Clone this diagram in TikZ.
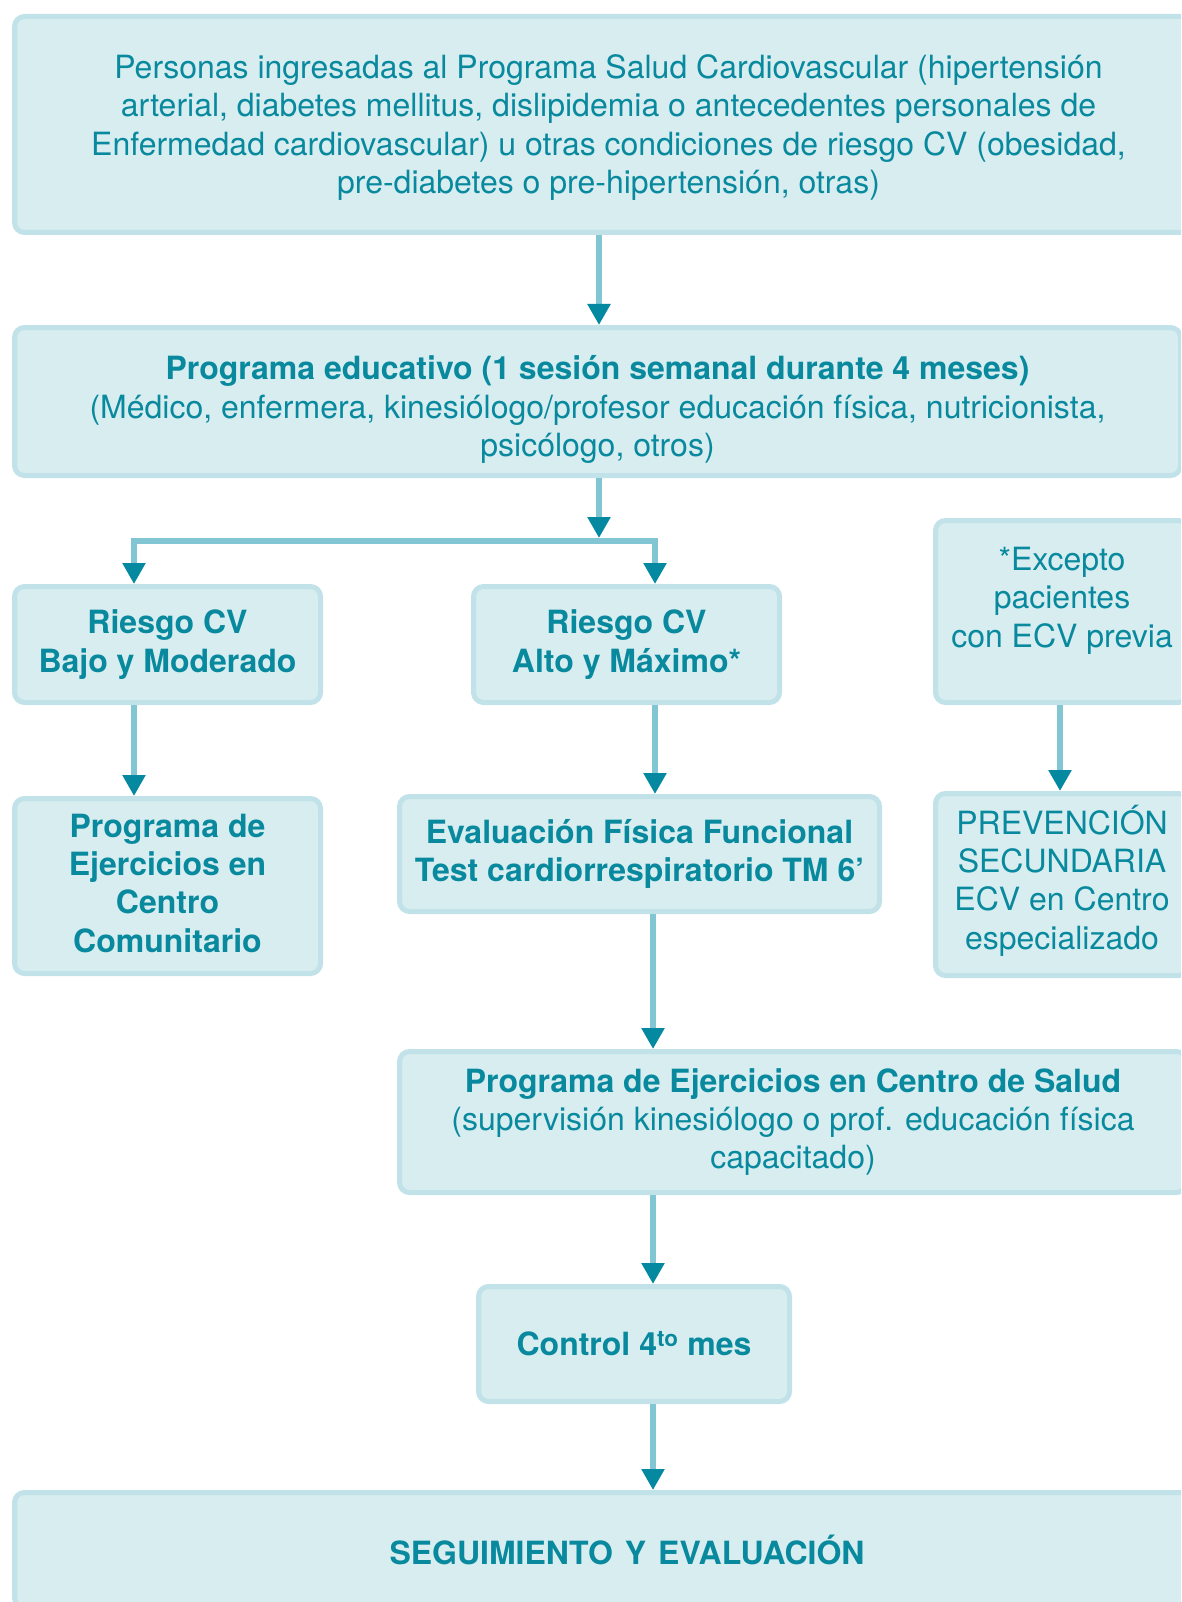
\documentclass[tikz,border=0pt]{standalone}
\usepackage{fontspec}
\setmainfont{TeX Gyre Heros}
\usetikzlibrary{arrows.meta}

\definecolor{cajafondo}{HTML}{D8EDF0}
\definecolor{cajaborde}{HTML}{C0E2E8}
\definecolor{textoazul}{HTML}{08899E}
\definecolor{trazo}{HTML}{82C6D3}
\definecolor{punta}{HTML}{0489A0}

\tikzset{
  caja/.style={draw=cajaborde, fill=cajafondo, line width=5pt, rounded corners=10pt,
    align=center, text=textoazul, inner sep=0pt, font=\fontsize{32}{38.4}\selectfont},
  flecha/.style={draw=trazo, line width=6pt,
    -{Triangle[length=21pt,width=22pt,color=punta]}}
}

\begin{document}
\begin{tikzpicture}[x=1pt,y=-1pt]
    \useasboundingbox (0,0) rectangle (1181,1602);
    \clip (0,0) rectangle (1181,1602);

    % columnas de las flechas
    \coordinate (eje) at (599,541);
    \coordinate (colA) at (655,0);
    \coordinate (colB) at (134,0);
    \coordinate (colC) at (1060,0);
    \coordinate (colD) at (653,0);

    \node[caja, minimum width=1188pt, minimum height=216pt, text depth=1pt] (ingreso) at (608.5,124.5)
      {Personas ingresadas al Programa Salud Cardiovascular (hipertensión\\
       arterial, diabetes mellitus, dislipidemia o antecedentes personales de\\
       Enfermedad cardiovascular) u otras condiciones de riesgo CV (obesidad,\\
       pre-diabetes o pre-hipertensión, otras)};
    \node[caja, minimum width=1166pt, minimum height=148pt] (educ) at (597.5,401.5)
      {\rule{0pt}{40pt}\textbf{Programa educativo (1 sesión semanal durante 4 meses)}\\
       (Médico, enfermera, kinesiólogo/profesor educación física, nutricionista,\\
       psicólogo, otros)};
    \node[caja, minimum width=306pt, minimum height=116pt, font=\fontsize{32}{38.4}\selectfont\bfseries] (bajo) at (167.5,644.5)
      {Riesgo CV\\ Bajo y Moderado};
    \node[caja, minimum width=306pt, minimum height=116pt, font=\fontsize{32}{38.4}\selectfont\bfseries] (alto) at (626.5,644.5)
      {Riesgo CV\\ Alto y Máximo*};
    \node[caja, minimum width=253pt, minimum height=182pt, text depth=29pt] (excep) at (1062,611.5)
      {*Excepto\\ pacientes\\ con ECV previa};
    \node[caja, minimum width=306pt, minimum height=175pt, text depth=6pt, font=\fontsize{32}{38.4}\selectfont\bfseries] (comun) at (167.5,886)
      {Programa de\\ Ejercicios en\\ Centro\\ Comunitario};
    \node[caja, minimum width=480pt, minimum height=115pt, font=\fontsize{32}{38.4}\selectfont\bfseries] (evalf) at (639.5,854)
      {Evaluación Física Funcional\\ Test cardiorrespiratorio TM 6’};
    \node[caja, minimum width=253pt, minimum height=182pt, text depth=15pt] (prev) at (1062,884.5)
      {PREVENCIÓN\\ SECUNDARIA\\ ECV en Centro\\ especializado};
    \node[caja, minimum width=787pt, minimum height=141pt] (salud) at (793,1122)
      {\textbf{Programa de Ejercicios en Centro de Salud}\\
       (supervisión kinesiólogo o prof. educación física\\
       capacitado)};
    \node[caja, minimum width=311pt, minimum height=115pt, font=\fontsize{32}{38.4}\selectfont\bfseries] (control) at (634,1344)
      {Control 4\textsuperscript{to} mes};
    \node[caja, minimum width=1225pt, minimum height=115pt, font=\fontsize{32}{38.4}\selectfont\bfseries] (segui) at (627,1550)
      {SEGUIMIENTO\hspace{12pt}Y\hspace{12pt}EVALUACIÓN};

    % conexiones
    \draw[flecha] (ingreso.south -| eje) -- (educ.north -| eje);
    \draw[flecha, shorten >=3pt] (educ.south -| eje) -- (eje);
    \draw[flecha] (eje) -| (bajo.north -| colB);
    \draw[flecha] (eje) -| (alto.north -| colA);
    \draw[flecha] (bajo.south -| colB) -- (comun.north -| colB);
    \draw[flecha] (alto.south -| colA) -- (evalf.north -| colA);
    \draw[flecha] (excep.south -| colC) -- (prev.north -| colC);
    \draw[flecha] (evalf.south -| colD) -- (salud.north -| colD);
    \draw[flecha] (salud.south -| colD) -- (control.north -| colD);
    \draw[flecha] (control.south -| colD) -- (segui.north -| colD);
\end{tikzpicture}
\end{document}
